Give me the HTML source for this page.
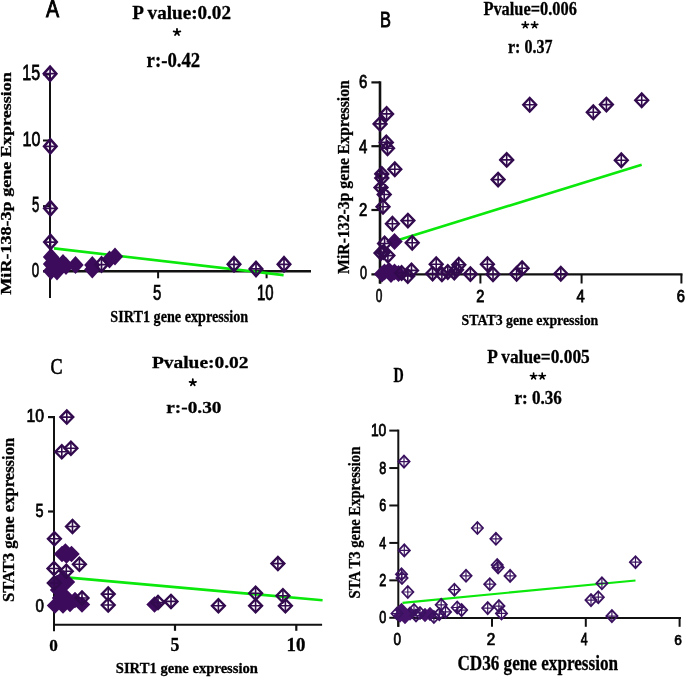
<!DOCTYPE html>
<html><head><meta charset="utf-8"><style>
html,body{margin:0;padding:0;background:#fff;}
body{width:685px;height:678px;overflow:hidden;font-family:"Liberation Sans",sans-serif;}
svg{display:block;will-change:transform;filter:blur(0.3px);}
</style></head><body>
<svg width="685" height="678" viewBox="0 0 685 678"><line x1="50" y1="73" x2="50" y2="298" stroke="#111" stroke-width="2" stroke-linecap="butt"/>
<line x1="43" y1="271.3" x2="311" y2="271.3" stroke="#111" stroke-width="2.5" stroke-linecap="butt"/>
<line x1="43" y1="74.5" x2="50" y2="74.5" stroke="#111" stroke-width="2" stroke-linecap="butt"/>
<line x1="43" y1="140.5" x2="50" y2="140.5" stroke="#111" stroke-width="2" stroke-linecap="butt"/>
<line x1="43" y1="206.1" x2="50" y2="206.1" stroke="#111" stroke-width="2" stroke-linecap="butt"/>
<line x1="158.1" y1="271" x2="158.1" y2="278.3" stroke="#111" stroke-width="2" stroke-linecap="butt"/>
<line x1="266.6" y1="271" x2="266.6" y2="278.3" stroke="#111" stroke-width="2" stroke-linecap="butt"/>
<line x1="380" y1="81.3" x2="380" y2="283.6" stroke="#111" stroke-width="2.6" stroke-linecap="butt"/>
<line x1="371.4" y1="274.4" x2="682.5" y2="274.4" stroke="#111" stroke-width="2.2" stroke-linecap="butt"/>
<line x1="371.4" y1="82.4" x2="380" y2="82.4" stroke="#111" stroke-width="2.2" stroke-linecap="butt"/>
<line x1="371.4" y1="146.2" x2="380" y2="146.2" stroke="#111" stroke-width="2.2" stroke-linecap="butt"/>
<line x1="371.4" y1="210.0" x2="380" y2="210.0" stroke="#111" stroke-width="2.2" stroke-linecap="butt"/>
<line x1="380.2" y1="274.4" x2="380.2" y2="283.5" stroke="#111" stroke-width="2" stroke-linecap="butt"/>
<line x1="480.4" y1="274.4" x2="480.4" y2="283.5" stroke="#111" stroke-width="2" stroke-linecap="butt"/>
<line x1="581.6" y1="274.4" x2="581.6" y2="283.5" stroke="#111" stroke-width="2" stroke-linecap="butt"/>
<line x1="681.4" y1="274.4" x2="681.4" y2="283.5" stroke="#111" stroke-width="2" stroke-linecap="butt"/>
<line x1="54" y1="416" x2="54" y2="631.3" stroke="#111" stroke-width="2" stroke-linecap="butt"/>
<line x1="54" y1="624.8" x2="322.1" y2="624.8" stroke="#111" stroke-width="2" stroke-linecap="butt"/>
<line x1="48" y1="417.1" x2="54" y2="417.1" stroke="#111" stroke-width="2.2" stroke-linecap="butt"/>
<line x1="48" y1="511.5" x2="54" y2="511.5" stroke="#111" stroke-width="2.2" stroke-linecap="butt"/>
<line x1="48" y1="606" x2="54" y2="606" stroke="#111" stroke-width="2.2" stroke-linecap="butt"/>
<line x1="175" y1="624.8" x2="175" y2="630.8" stroke="#111" stroke-width="2.2" stroke-linecap="butt"/>
<line x1="296.3" y1="624.8" x2="296.3" y2="630.8" stroke="#111" stroke-width="2.2" stroke-linecap="butt"/>
<line x1="398.3" y1="429.6" x2="398.3" y2="626.8" stroke="#111" stroke-width="2" stroke-linecap="butt"/>
<line x1="398.3" y1="618" x2="681" y2="618" stroke="#111" stroke-width="2" stroke-linecap="butt"/>
<line x1="389.3" y1="617.8" x2="398.3" y2="617.8" stroke="#111" stroke-width="2" stroke-linecap="butt"/>
<line x1="389.3" y1="580.3599999999999" x2="398.3" y2="580.3599999999999" stroke="#111" stroke-width="2" stroke-linecap="butt"/>
<line x1="389.3" y1="542.92" x2="398.3" y2="542.92" stroke="#111" stroke-width="2" stroke-linecap="butt"/>
<line x1="389.3" y1="505.47999999999996" x2="398.3" y2="505.47999999999996" stroke="#111" stroke-width="2" stroke-linecap="butt"/>
<line x1="389.3" y1="468.03999999999996" x2="398.3" y2="468.03999999999996" stroke="#111" stroke-width="2" stroke-linecap="butt"/>
<line x1="389.3" y1="430.59999999999997" x2="398.3" y2="430.59999999999997" stroke="#111" stroke-width="2" stroke-linecap="butt"/>
<line x1="398.3" y1="618" x2="398.3" y2="626.8" stroke="#111" stroke-width="2" stroke-linecap="butt"/>
<line x1="492.0" y1="618" x2="492.0" y2="626.8" stroke="#111" stroke-width="2" stroke-linecap="butt"/>
<line x1="585.8" y1="618" x2="585.8" y2="626.8" stroke="#111" stroke-width="2" stroke-linecap="butt"/>
<line x1="679.6" y1="618" x2="679.6" y2="626.8" stroke="#111" stroke-width="2" stroke-linecap="butt"/>
<line x1="54" y1="248.4" x2="283.6" y2="275.1" stroke="#0be80b" stroke-width="2.6" stroke-linecap="butt"/>
<line x1="392" y1="242" x2="641.7" y2="164.7" stroke="#0be80b" stroke-width="2.6" stroke-linecap="butt"/>
<line x1="58" y1="576.6" x2="322.6" y2="600.3" stroke="#0be80b" stroke-width="2.6" stroke-linecap="butt"/>
<line x1="402.5" y1="602.8" x2="635.5" y2="580.5" stroke="#0be80b" stroke-width="2.2" stroke-linecap="butt"/>
<path d="M42.83,257.00L51.00,248.03L59.17,257.00L51.00,265.98ZM42.83,264.00L51.00,255.03L59.17,264.00L51.00,272.98ZM42.83,271.00L51.00,262.02L59.17,271.00L51.00,279.98ZM48.83,271.50L57.00,262.52L65.17,271.50L57.00,280.48ZM47.83,263.00L56.00,254.03L64.17,263.00L56.00,271.98ZM54.83,263.00L63.00,254.03L71.17,263.00L63.00,271.98ZM57.83,266.00L66.00,257.02L74.17,266.00L66.00,274.98ZM50.83,267.00L59.00,258.02L67.17,267.00L59.00,275.98ZM67.33,265.00L75.50,256.02L83.67,265.00L75.50,273.98ZM84.12,265.00L92.30,256.02L100.47,265.00L92.30,273.98ZM84.12,269.50L92.30,260.52L100.47,269.50L92.30,278.48ZM101.33,259.50L109.50,250.53L117.67,259.50L109.50,268.48ZM106.83,256.50L115.00,247.53L123.17,256.50L115.00,265.48Z" fill="#3d0b5c"/>
<path d="M43.80,73.70L50.10,66.60L56.40,73.70L50.10,80.80ZM44.00,146.30L50.30,139.20L56.60,146.30L50.30,153.40ZM44.10,208.30L50.40,201.20L56.70,208.30L50.40,215.40ZM44.20,242.10L50.50,235.00L56.80,242.10L50.50,249.20ZM95.20,264.60L101.50,257.50L107.80,264.60L101.50,271.70ZM227.70,264.30L234.00,257.20L240.30,264.30L234.00,271.40ZM249.70,268.90L256.00,261.80L262.30,268.90L256.00,276.00ZM277.70,264.30L284.00,257.20L290.30,264.30L284.00,271.40Z" fill="none" stroke="#330a50" stroke-width="2.5" stroke-linejoin="miter" stroke-miterlimit="4"/>
<path d="M43.80,73.70H56.40M50.10,66.60V80.80M44.00,146.30H56.60M50.30,139.20V153.40M44.10,208.30H56.70M50.40,201.20V215.40M44.20,242.10H56.80M50.50,235.00V249.20M95.20,264.60H107.80M101.50,257.50V271.70M227.70,264.30H240.30M234.00,257.20V271.40M249.70,268.90H262.30M256.00,261.80V276.00M277.70,264.30H290.30M284.00,257.20V271.40" fill="none" stroke="#330a50" stroke-width="1.7"/>
<path d="M386.27,241.60L394.50,233.07L402.73,241.60L394.50,250.12ZM376.27,272.00L384.50,263.48L392.73,272.00L384.50,280.52ZM381.27,271.00L389.50,262.48L397.73,271.00L389.50,279.52ZM386.27,272.00L394.50,263.48L402.73,272.00L394.50,280.52ZM390.27,273.50L398.50,264.98L406.73,273.50L398.50,282.02ZM380.27,271.00L388.50,262.48L396.73,271.00L388.50,279.52ZM382.77,274.50L391.00,265.98L399.23,274.50L391.00,283.02ZM373.77,274.00L382.00,265.48L390.23,274.00L382.00,282.52Z" fill="#3d0b5c"/>
<path d="M380.10,113.90L386.60,107.10L393.10,113.90L386.60,120.70ZM373.60,123.90L380.10,117.10L386.60,123.90L380.10,130.70ZM379.80,142.40L386.30,135.60L392.80,142.40L386.30,149.20ZM381.00,148.20L387.50,141.40L394.00,148.20L387.50,155.00ZM388.30,169.20L394.80,162.40L401.30,169.20L394.80,176.00ZM375.30,173.90L381.80,167.10L388.30,173.90L381.80,180.70ZM375.30,178.00L381.80,171.20L388.30,178.00L381.80,184.80ZM374.50,187.60L381.00,180.80L387.50,187.60L381.00,194.40ZM377.70,194.50L384.20,187.70L390.70,194.50L384.20,201.30ZM376.50,206.80L383.00,200.00L389.50,206.80L383.00,213.60ZM385.90,223.80L392.40,217.00L398.90,223.80L392.40,230.60ZM401.40,220.60L407.90,213.80L414.40,220.60L407.90,227.40ZM378.10,243.50L384.60,236.70L391.10,243.50L384.60,250.30ZM405.70,242.70L412.20,235.90L418.70,242.70L412.20,249.50ZM374.50,253.00L381.00,246.20L387.50,253.00L381.00,259.80ZM381.40,255.60L387.90,248.80L394.40,255.60L387.90,262.40ZM377.00,252.00L383.50,245.20L390.00,252.00L383.50,258.80ZM395.10,273.00L401.60,266.20L408.10,273.00L401.60,279.80ZM405.00,270.40L411.50,263.60L418.00,270.40L411.50,277.20ZM401.30,276.00L407.80,269.20L414.30,276.00L407.80,282.80ZM429.70,264.20L436.20,257.40L442.70,264.20L436.20,271.00ZM426.10,273.60L432.60,266.80L439.10,273.60L432.60,280.40ZM435.40,274.30L441.90,267.50L448.40,274.30L441.90,281.10ZM441.30,272.00L447.80,265.20L454.30,272.00L447.80,278.80ZM447.80,272.60L454.30,265.80L460.80,272.60L454.30,279.40ZM452.30,264.80L458.80,258.00L465.30,264.80L458.80,271.60ZM450.00,269.70L456.50,262.90L463.00,269.70L456.50,276.50ZM463.90,274.10L470.40,267.30L476.90,274.10L470.40,280.90ZM480.90,264.20L487.40,257.40L493.90,264.20L487.40,271.00ZM486.50,274.20L493.00,267.40L499.50,274.20L493.00,281.00ZM510.10,273.80L516.60,267.00L523.10,273.80L516.60,280.60ZM515.60,268.30L522.10,261.50L528.60,268.30L522.10,275.10ZM554.30,273.80L560.80,267.00L567.30,273.80L560.80,280.60ZM491.60,179.60L498.10,172.80L504.60,179.60L498.10,186.40ZM500.20,159.90L506.70,153.10L513.20,159.90L506.70,166.70ZM523.20,104.80L529.70,98.00L536.20,104.80L529.70,111.60ZM586.80,112.20L593.30,105.40L599.80,112.20L593.30,119.00ZM599.90,104.60L606.40,97.80L612.90,104.60L606.40,111.40ZM635.20,100.30L641.70,93.50L648.20,100.30L641.70,107.10ZM614.80,160.20L621.30,153.40L627.80,160.20L621.30,167.00Z" fill="none" stroke="#320a4e" stroke-width="2.3" stroke-linejoin="miter" stroke-miterlimit="4"/>
<path d="M380.10,113.90H393.10M386.60,107.10V120.70M373.60,123.90H386.60M380.10,117.10V130.70M379.80,142.40H392.80M386.30,135.60V149.20M381.00,148.20H394.00M387.50,141.40V155.00M388.30,169.20H401.30M394.80,162.40V176.00M375.30,173.90H388.30M381.80,167.10V180.70M375.30,178.00H388.30M381.80,171.20V184.80M374.50,187.60H387.50M381.00,180.80V194.40M377.70,194.50H390.70M384.20,187.70V201.30M376.50,206.80H389.50M383.00,200.00V213.60M385.90,223.80H398.90M392.40,217.00V230.60M401.40,220.60H414.40M407.90,213.80V227.40M378.10,243.50H391.10M384.60,236.70V250.30M405.70,242.70H418.70M412.20,235.90V249.50M374.50,253.00H387.50M381.00,246.20V259.80M381.40,255.60H394.40M387.90,248.80V262.40M377.00,252.00H390.00M383.50,245.20V258.80M395.10,273.00H408.10M401.60,266.20V279.80M405.00,270.40H418.00M411.50,263.60V277.20M401.30,276.00H414.30M407.80,269.20V282.80M429.70,264.20H442.70M436.20,257.40V271.00M426.10,273.60H439.10M432.60,266.80V280.40M435.40,274.30H448.40M441.90,267.50V281.10M441.30,272.00H454.30M447.80,265.20V278.80M447.80,272.60H460.80M454.30,265.80V279.40M452.30,264.80H465.30M458.80,258.00V271.60M450.00,269.70H463.00M456.50,262.90V276.50M463.90,274.10H476.90M470.40,267.30V280.90M480.90,264.20H493.90M487.40,257.40V271.00M486.50,274.20H499.50M493.00,267.40V281.00M510.10,273.80H523.10M516.60,267.00V280.60M515.60,268.30H528.60M522.10,261.50V275.10M554.30,273.80H567.30M560.80,267.00V280.60M491.60,179.60H504.60M498.10,172.80V186.40M500.20,159.90H513.20M506.70,153.10V166.70M523.20,104.80H536.20M529.70,98.00V111.60M586.80,112.20H599.80M593.30,105.40V119.00M599.90,104.60H612.90M606.40,97.80V111.40M635.20,100.30H648.20M641.70,93.50V107.10M614.80,160.20H627.80M621.30,153.40V167.00" fill="none" stroke="#320a4e" stroke-width="1.6"/>
<path d="M57.18,551.50L65.40,543.17L73.62,551.50L65.40,559.83ZM63.27,554.00L71.50,545.67L79.72,554.00L71.50,562.33ZM53.77,554.00L62.00,545.67L70.22,554.00L62.00,562.33ZM58.27,555.50L66.50,547.17L74.72,555.50L66.50,563.83ZM54.77,578.00L63.00,569.67L71.22,578.00L63.00,586.33ZM54.77,586.00L63.00,577.67L71.22,586.00L63.00,594.33ZM48.77,583.00L57.00,574.67L65.22,583.00L57.00,591.33ZM58.77,582.00L67.00,573.67L75.22,582.00L67.00,590.33ZM49.77,590.00L58.00,581.67L66.22,590.00L58.00,598.33ZM46.77,605.50L55.00,597.17L63.23,605.50L55.00,613.83ZM54.77,605.50L63.00,597.17L71.22,605.50L63.00,613.83ZM61.77,604.00L70.00,595.67L78.22,604.00L70.00,612.33ZM66.78,600.00L75.00,591.67L83.22,600.00L75.00,608.33ZM73.78,604.50L82.00,596.17L90.22,604.50L82.00,612.83ZM51.77,598.00L60.00,589.67L68.22,598.00L60.00,606.33ZM56.77,596.00L65.00,587.67L73.22,596.00L65.00,604.33ZM146.28,604.50L154.50,596.17L162.72,604.50L154.50,612.83Z" fill="#3d0b5c"/>
<path d="M60.30,417.10L66.80,410.50L73.30,417.10L66.80,423.70ZM55.30,451.80L61.80,445.20L68.30,451.80L61.80,458.40ZM64.40,448.30L70.90,441.70L77.40,448.30L70.90,454.90ZM66.00,526.50L72.50,519.90L79.00,526.50L72.50,533.10ZM47.90,538.80L54.40,532.20L60.90,538.80L54.40,545.40ZM72.90,564.20L79.40,557.60L85.90,564.20L79.40,570.80ZM47.50,568.50L54.00,561.90L60.50,568.50L54.00,575.10ZM59.80,571.20L66.30,564.60L72.80,571.20L66.30,577.80ZM47.80,583.00L54.30,576.40L60.80,583.00L54.30,589.60ZM75.50,598.00L82.00,591.40L88.50,598.00L82.00,604.60ZM101.70,594.10L108.20,587.50L114.70,594.10L108.20,600.70ZM101.70,605.00L108.20,598.40L114.70,605.00L108.20,611.60ZM151.50,602.50L158.00,595.90L164.50,602.50L158.00,609.10ZM164.50,601.40L171.00,594.80L177.50,601.40L171.00,608.00ZM211.90,605.80L218.40,599.20L224.90,605.80L218.40,612.40ZM249.10,593.30L255.60,586.70L262.10,593.30L255.60,599.90ZM249.10,605.80L255.60,599.20L262.10,605.80L255.60,612.40ZM271.40,563.60L277.90,557.00L284.40,563.60L277.90,570.20ZM276.40,595.80L282.90,589.20L289.40,595.80L282.90,602.40ZM278.90,605.80L285.40,599.20L291.90,605.80L285.40,612.40Z" fill="none" stroke="#320a4e" stroke-width="2.3" stroke-linejoin="miter" stroke-miterlimit="4"/>
<path d="M60.30,417.10H73.30M66.80,410.50V423.70M55.30,451.80H68.30M61.80,445.20V458.40M64.40,448.30H77.40M70.90,441.70V454.90M66.00,526.50H79.00M72.50,519.90V533.10M47.90,538.80H60.90M54.40,532.20V545.40M72.90,564.20H85.90M79.40,557.60V570.80M47.50,568.50H60.50M54.00,561.90V575.10M59.80,571.20H72.80M66.30,564.60V577.80M47.80,583.00H60.80M54.30,576.40V589.60M75.50,598.00H88.50M82.00,591.40V604.60M101.70,594.10H114.70M108.20,587.50V600.70M101.70,605.00H114.70M108.20,598.40V611.60M151.50,602.50H164.50M158.00,595.90V609.10M164.50,601.40H177.50M171.00,594.80V608.00M211.90,605.80H224.90M218.40,599.20V612.40M249.10,593.30H262.10M255.60,586.70V599.90M249.10,605.80H262.10M255.60,599.20V612.40M271.40,563.60H284.40M277.90,557.00V570.20M276.40,595.80H289.40M282.90,589.20V602.40M278.90,605.80H291.90M285.40,599.20V612.40" fill="none" stroke="#320a4e" stroke-width="1.6"/>
<path d="M394.55,610.00L401.50,602.65L408.45,610.00L401.50,617.35ZM393.05,615.50L400.00,608.15L406.95,615.50L400.00,622.85ZM398.05,617.00L405.00,609.65L411.95,617.00L405.00,624.35ZM403.05,613.50L410.00,606.15L416.95,613.50L410.00,620.85ZM418.05,615.00L425.00,607.65L431.95,615.00L425.00,622.35ZM423.05,614.00L430.00,606.65L436.95,614.00L430.00,621.35Z" fill="#45136a"/>
<path d="M398.40,461.60L404.00,455.60L409.60,461.60L404.00,467.60ZM398.70,550.40L404.30,544.40L409.90,550.40L404.30,556.40ZM395.90,574.30L401.50,568.30L407.10,574.30L401.50,580.30ZM396.40,578.00L402.00,572.00L407.60,578.00L402.00,584.00ZM471.80,528.00L477.40,522.00L483.00,528.00L477.40,534.00ZM460.40,575.80L466.00,569.80L471.60,575.80L466.00,581.80ZM448.80,589.70L454.40,583.70L460.00,589.70L454.40,595.70ZM402.20,592.00L407.80,586.00L413.40,592.00L407.80,598.00ZM490.30,538.80L495.90,532.80L501.50,538.80L495.90,544.80ZM491.60,565.00L497.20,559.00L502.80,565.00L497.20,571.00ZM492.50,567.40L498.10,561.40L503.70,567.40L498.10,573.40ZM504.50,575.90L510.10,569.90L515.70,575.90L510.10,581.90ZM484.20,584.20L489.80,578.20L495.40,584.20L489.80,590.20ZM435.60,604.80L441.20,598.80L446.80,604.80L441.20,610.80ZM433.70,614.10L439.30,608.10L444.90,614.10L439.30,620.10ZM439.90,611.90L445.50,605.90L451.10,611.90L445.50,617.90ZM451.60,607.50L457.20,601.50L462.80,607.50L457.20,613.50ZM456.00,610.10L461.60,604.10L467.20,610.10L461.60,616.10ZM482.10,608.10L487.70,602.10L493.30,608.10L487.70,614.10ZM493.30,606.10L498.90,600.10L504.50,606.10L498.90,612.10ZM495.90,613.40L501.50,607.40L507.10,613.40L501.50,619.40ZM629.90,562.20L635.50,556.20L641.10,562.20L635.50,568.20ZM596.30,583.30L601.90,577.30L607.50,583.30L601.90,589.30ZM585.40,600.10L591.00,594.10L596.60,600.10L591.00,606.10ZM592.70,597.20L598.30,591.20L603.90,597.20L598.30,603.20ZM606.30,616.10L611.90,610.10L617.50,616.10L611.90,622.10ZM391.40,613.50L397.00,607.50L402.60,613.50L397.00,619.50ZM410.40,615.50L416.00,609.50L421.60,615.50L416.00,621.50ZM414.40,613.00L420.00,607.00L425.60,613.00L420.00,619.00ZM408.40,610.00L414.00,604.00L419.60,610.00L414.00,616.00ZM428.30,617.00L433.90,611.00L439.50,617.00L433.90,623.00Z" fill="none" stroke="#3a1260" stroke-width="1.8" stroke-linejoin="miter" stroke-miterlimit="4"/>
<path d="M398.40,461.60H409.60M404.00,455.60V467.60M398.70,550.40H409.90M404.30,544.40V556.40M395.90,574.30H407.10M401.50,568.30V580.30M396.40,578.00H407.60M402.00,572.00V584.00M471.80,528.00H483.00M477.40,522.00V534.00M460.40,575.80H471.60M466.00,569.80V581.80M448.80,589.70H460.00M454.40,583.70V595.70M402.20,592.00H413.40M407.80,586.00V598.00M490.30,538.80H501.50M495.90,532.80V544.80M491.60,565.00H502.80M497.20,559.00V571.00M492.50,567.40H503.70M498.10,561.40V573.40M504.50,575.90H515.70M510.10,569.90V581.90M484.20,584.20H495.40M489.80,578.20V590.20M435.60,604.80H446.80M441.20,598.80V610.80M433.70,614.10H444.90M439.30,608.10V620.10M439.90,611.90H451.10M445.50,605.90V617.90M451.60,607.50H462.80M457.20,601.50V613.50M456.00,610.10H467.20M461.60,604.10V616.10M482.10,608.10H493.30M487.70,602.10V614.10M493.30,606.10H504.50M498.90,600.10V612.10M495.90,613.40H507.10M501.50,607.40V619.40M629.90,562.20H641.10M635.50,556.20V568.20M596.30,583.30H607.50M601.90,577.30V589.30M585.40,600.10H596.60M591.00,594.10V606.10M592.70,597.20H603.90M598.30,591.20V603.20M606.30,616.10H617.50M611.90,610.10V622.10M391.40,613.50H402.60M397.00,607.50V619.50M410.40,615.50H421.60M416.00,609.50V621.50M414.40,613.00H425.60M420.00,607.00V619.00M408.40,610.00H419.60M414.00,604.00V616.00M428.30,617.00H439.50M433.90,611.00V623.00" fill="none" stroke="#3a1260" stroke-width="1.2"/>
<path d="M177.00,32.20L177.00,28.80M177.00,32.20L180.33,31.49M177.00,32.20L178.95,34.99M177.00,32.20L175.05,34.99M177.00,32.20L173.67,31.49" stroke="#000" stroke-width="1.8" stroke-linecap="round" fill="none"/>
<path d="M525.30,25.00L525.30,21.80M525.30,25.00L528.43,24.33M525.30,25.00L527.14,27.62M525.30,25.00L523.46,27.62M525.30,25.00L522.17,24.33" stroke="#000" stroke-width="1.7" stroke-linecap="round" fill="none"/>
<path d="M534.60,25.00L534.60,21.80M534.60,25.00L537.73,24.33M534.60,25.00L536.44,27.62M534.60,25.00L532.76,27.62M534.60,25.00L531.47,24.33" stroke="#000" stroke-width="1.7" stroke-linecap="round" fill="none"/>
<path d="M192.80,382.50L192.80,379.20M192.80,382.50L196.03,381.81M192.80,382.50L194.69,385.20M192.80,382.50L190.91,385.20M192.80,382.50L189.57,381.81" stroke="#000" stroke-width="1.8" stroke-linecap="round" fill="none"/>
<path d="M533.60,376.20L533.60,373.00M533.60,376.20L536.73,375.53M533.60,376.20L535.44,378.82M533.60,376.20L531.76,378.82M533.60,376.20L530.47,375.53" stroke="#000" stroke-width="1.7" stroke-linecap="round" fill="none"/>
<path d="M542.20,376.20L542.20,373.00M542.20,376.20L545.33,375.53M542.20,376.20L544.04,378.82M542.20,376.20L540.36,378.82M542.20,376.20L539.07,375.53" stroke="#000" stroke-width="1.7" stroke-linecap="round" fill="none"/>
<text transform="translate(46.10,16.90) scale(0.8391,1)" x="0.00" y="0" font-family="Liberation Sans" font-weight="normal" font-size="23.48" fill="#000"  stroke="#000" stroke-width="0.9">A</text>
<text transform="translate(132.20,18.95) scale(0.9750,1)" x="0.00" y="0" font-family="Liberation Serif" font-weight="bold" font-size="19.62" fill="#000"  stroke="#000" stroke-width="0.3">P value:0.02</text>
<text transform="translate(146.60,67.30) scale(0.9184,1)" x="0.00" y="0" font-family="Liberation Serif" font-weight="bold" font-size="20.44" fill="#000"  stroke="#000" stroke-width="0.3">r:-0.42</text>
<text transform="translate(22.30,80.49) scale(0.7534,1)" x="0.00" y="0" font-family="Liberation Sans" font-weight="normal" font-size="21.29" fill="#000"  stroke="#000" stroke-width="0.75">15</text>
<text transform="translate(22.60,146.39) scale(0.7798,1)" x="0.00" y="0" font-family="Liberation Sans" font-weight="normal" font-size="20.56" fill="#000"  stroke="#000" stroke-width="0.75">10</text>
<text transform="translate(31.90,212.29) scale(0.6179,1)" x="0.00" y="0" font-family="Liberation Sans" font-weight="normal" font-size="21.29" fill="#000"  stroke="#000" stroke-width="0.75">5</text>
<text transform="translate(31.70,277.49) scale(0.6396,1)" x="0.00" y="0" font-family="Liberation Sans" font-weight="normal" font-size="20.85" fill="#000"  stroke="#000" stroke-width="0.75">0</text>
<text transform="translate(153.10,300.08) scale(0.6933,1)" x="0.00" y="0" font-family="Liberation Sans" font-weight="normal" font-size="21.57" fill="#000"  stroke="#000" stroke-width="0.75">5</text>
<text transform="translate(257.00,300.09) scale(0.7032,1)" x="0.00" y="0" font-family="Liberation Sans" font-weight="normal" font-size="21.27" fill="#000"  stroke="#000" stroke-width="0.75">10</text>
<text transform="translate(110.30,322.10) scale(0.8231,1)" x="0.00" y="0" font-family="Liberation Serif" font-weight="bold" font-size="17.25" fill="#000"  stroke="#000" stroke-width="0.3">SIRT1 gene expression</text>
<text transform="translate(11.40,294.70) rotate(-90) scale(1.2601,1)" x="0.00" y="0" font-family="Liberation Serif" font-weight="bold" font-size="14.35" fill="#000"  stroke="#000" stroke-width="0.3">MiR-138-3p gene Expression</text>
<text transform="translate(379.90,26.60) scale(0.7590,1)" x="0.00" y="0" font-family="Liberation Sans" font-weight="normal" font-size="21.59" fill="#000"  stroke="#000" stroke-width="0.9">B</text>
<text transform="translate(483.40,15.30) scale(0.8791,1)" x="0.00" y="0" font-family="Liberation Serif" font-weight="bold" font-size="18.63" fill="#000"  stroke="#000" stroke-width="0.3">Pvalue=0.006</text>
<text transform="translate(508.00,52.72) scale(0.8780,1)" x="0.00" y="0" font-family="Liberation Serif" font-weight="bold" font-size="18.22" fill="#000"  stroke="#000" stroke-width="0.3">r: 0.37</text>
<text transform="translate(359.10,87.52) scale(0.8361,1)" x="0.00" y="0" font-family="Liberation Sans" font-weight="normal" font-size="17.89" fill="#000"  stroke="#000" stroke-width="0.75">6</text>
<text transform="translate(359.10,152.50) scale(0.8255,1)" x="0.00" y="0" font-family="Liberation Sans" font-weight="normal" font-size="18.12" fill="#000"  stroke="#000" stroke-width="0.75">4</text>
<text transform="translate(359.10,216.30) scale(0.8375,1)" x="0.00" y="0" font-family="Liberation Sans" font-weight="normal" font-size="17.86" fill="#000"  stroke="#000" stroke-width="0.75">2</text>
<text transform="translate(359.90,279.42) scale(0.6996,1)" x="0.00" y="0" font-family="Liberation Sans" font-weight="normal" font-size="18.03" fill="#000"  stroke="#000" stroke-width="0.75">0</text>
<text transform="translate(375.80,301.62) scale(0.6545,1)" x="0.00" y="0" font-family="Liberation Sans" font-weight="normal" font-size="18.17" fill="#000"  stroke="#000" stroke-width="0.75">0</text>
<text transform="translate(476.30,302.10) scale(0.9122,1)" x="0.00" y="0" font-family="Liberation Sans" font-weight="normal" font-size="16.00" fill="#000"  stroke="#000" stroke-width="0.75">2</text>
<text transform="translate(576.40,301.50) scale(0.9353,1)" x="0.00" y="0" font-family="Liberation Sans" font-weight="normal" font-size="15.80" fill="#000"  stroke="#000" stroke-width="0.75">4</text>
<text transform="translate(676.80,301.64) scale(0.9366,1)" x="0.00" y="0" font-family="Liberation Sans" font-weight="normal" font-size="15.77" fill="#000"  stroke="#000" stroke-width="0.75">6</text>
<text transform="translate(461.60,325.10) scale(0.8882,1)" x="0.00" y="0" font-family="Liberation Serif" font-weight="bold" font-size="15.57" fill="#000"  stroke="#000" stroke-width="0.3">STAT3 gene expression</text>
<text transform="translate(349.40,273.90) rotate(-90) scale(0.9638,1)" x="0.00" y="0" font-family="Liberation Serif" font-weight="bold" font-size="16.34" fill="#000"  stroke="#000" stroke-width="0.3">MiR-132-3p gene Expression</text>
<text transform="translate(50.50,374.07) scale(0.7954,1)" x="0.00" y="0" font-family="Liberation Serif" font-weight="normal" font-size="22.69" fill="#000"  stroke="#000" stroke-width="0.7">C</text>
<text transform="translate(151.90,368.30) scale(1.1082,1)" x="0.00" y="0" font-family="Liberation Serif" font-weight="bold" font-size="17.56" fill="#000"  stroke="#000" stroke-width="0.3">Pvalue:0.02</text>
<text transform="translate(166.30,412.62) scale(1.0948,1)" x="0.00" y="0" font-family="Liberation Serif" font-weight="bold" font-size="17.63" fill="#000"  stroke="#000" stroke-width="0.3">r:-0.30</text>
<text transform="translate(26.60,422.12) scale(0.8814,1)" x="0.00" y="0" font-family="Liberation Sans" font-weight="normal" font-size="17.89" fill="#000"  stroke="#000" stroke-width="0.75">10</text>
<text transform="translate(35.60,517.41) scale(0.7644,1)" x="0.00" y="0" font-family="Liberation Sans" font-weight="normal" font-size="18.86" fill="#000"  stroke="#000" stroke-width="0.75">5</text>
<text transform="translate(35.50,612.13) scale(0.8666,1)" x="0.00" y="0" font-family="Liberation Sans" font-weight="normal" font-size="17.46" fill="#000"  stroke="#000" stroke-width="0.75">0</text>
<text transform="translate(49.20,651.33) scale(1.0009,1)" x="0.00" y="0" font-family="Liberation Serif" font-weight="bold" font-size="17.19" fill="#000"  stroke="#000" stroke-width="0.3">0</text>
<text transform="translate(170.50,651.32) scale(0.9783,1)" x="0.00" y="0" font-family="Liberation Serif" font-weight="bold" font-size="18.20" fill="#000"  stroke="#000" stroke-width="0.3">5</text>
<text transform="translate(286.60,651.32) scale(1.0543,1)" x="0.00" y="0" font-family="Liberation Serif" font-weight="bold" font-size="17.93" fill="#000"  stroke="#000" stroke-width="0.3">10</text>
<text transform="translate(115.80,672.80) scale(0.9496,1)" x="0.00" y="0" font-family="Liberation Serif" font-weight="bold" font-size="15.42" fill="#000"  stroke="#000" stroke-width="0.3">SIRT1 gene expression</text>
<text transform="translate(14.00,602.10) rotate(-90) scale(0.9721,1)" x="0.00" y="0" font-family="Liberation Serif" font-weight="bold" font-size="17.10" fill="#000"  stroke="#000" stroke-width="0.3">STAT3 gene expression</text>
<text transform="translate(393.40,382.10) scale(0.6978,1)" x="0.00" y="0" font-family="Liberation Serif" font-weight="bold" font-size="20.30" fill="#000"  stroke="#000" stroke-width="0.3">D</text>
<text transform="translate(487.20,363.00) scale(0.8961,1)" x="0.00" y="0" font-family="Liberation Serif" font-weight="bold" font-size="19.39" fill="#000"  stroke="#000" stroke-width="0.3">P value=0.005</text>
<text transform="translate(514.50,404.22) scale(0.9608,1)" x="0.00" y="0" font-family="Liberation Serif" font-weight="bold" font-size="17.78" fill="#000"  stroke="#000" stroke-width="0.3">r: 0.36</text>
<text transform="translate(370.90,435.64) scale(0.8492,1)" x="0.00" y="0" font-family="Liberation Sans" font-weight="normal" font-size="16.34" fill="#000"  stroke="#000" stroke-width="0.75">10</text>
<text transform="translate(379.30,586.06) scale(0.7745,1)" x="0.00" y="0" font-family="Liberation Sans" font-weight="normal" font-size="16.29" fill="#000"  stroke="#000" stroke-width="0.75">2</text>
<text transform="translate(379.30,548.62) scale(0.7634,1)" x="0.00" y="0" font-family="Liberation Sans" font-weight="normal" font-size="16.52" fill="#000"  stroke="#000" stroke-width="0.75">4</text>
<text transform="translate(379.30,511.02) scale(0.7855,1)" x="0.00" y="0" font-family="Liberation Sans" font-weight="normal" font-size="16.06" fill="#000"  stroke="#000" stroke-width="0.75">6</text>
<text transform="translate(379.30,473.58) scale(0.7855,1)" x="0.00" y="0" font-family="Liberation Sans" font-weight="normal" font-size="16.06" fill="#000"  stroke="#000" stroke-width="0.75">8</text>
<text transform="translate(379.30,622.64) scale(0.7925,1)" x="0.00" y="0" font-family="Liberation Sans" font-weight="normal" font-size="15.92" fill="#000"  stroke="#000" stroke-width="0.75">0</text>
<text transform="translate(393.50,644.53) scale(0.8131,1)" x="0.00" y="0" font-family="Liberation Sans" font-weight="normal" font-size="16.62" fill="#000"  stroke="#000" stroke-width="0.75">0</text>
<text transform="translate(486.80,645.20) scale(0.9746,1)" x="0.00" y="0" font-family="Liberation Sans" font-weight="normal" font-size="15.71" fill="#000"  stroke="#000" stroke-width="0.75">2</text>
<text transform="translate(580.80,644.80) scale(0.7943,1)" x="0.00" y="0" font-family="Liberation Sans" font-weight="normal" font-size="15.65" fill="#000"  stroke="#000" stroke-width="0.75">4</text>
<text transform="translate(674.30,644.65) scale(0.9002,1)" x="0.00" y="0" font-family="Liberation Sans" font-weight="normal" font-size="15.21" fill="#000"  stroke="#000" stroke-width="0.75">6</text>
<text transform="translate(457.40,669.60) scale(0.8454,1)" x="0.00" y="0" font-family="Liberation Serif" font-weight="bold" font-size="20.30" fill="#000"  stroke="#000" stroke-width="0.3">CD36 gene expression</text>
<text transform="translate(359.90,598.50) rotate(-90) scale(0.9062,1)" x="0.00" y="0" font-family="Liberation Serif" font-weight="bold" font-size="16.18" fill="#000"  stroke="#000" stroke-width="0.3">STA T3 gene Expression</text></svg>
</body></html>
